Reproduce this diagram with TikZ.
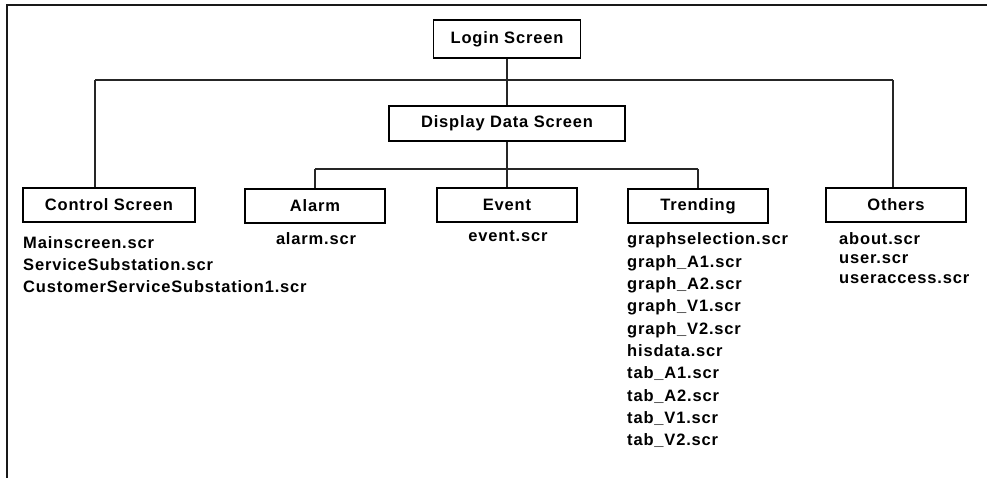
\documentclass[tikz,border=0pt]{standalone}
\usepackage{fontspec}
\setmainfont{Liberation Sans}[LetterSpace=5]
\begin{document}
\begin{tikzpicture}[x=1pt,y=-1pt,
  box/.style={draw=black,line width=1.3pt,inner sep=0pt,font=\fontsize{16.5}{19}\selectfont\bfseries},
  conn/.style={draw=black!85,line width=1.2pt},
  item/.style={inner sep=0pt,font=\fontsize{16.5}{19}\selectfont\bfseries,text=black}]
\useasboundingbox (0,0) rectangle (987,478);
% frame
\coordinate (fTL) at (6.5,5.5);
\coordinate (fTR) at (987,5.5);
\coordinate (fBL) at (6.5,478);
\draw[line width=2pt,black!90] (fBL) -- (fTL) -- (fTR);
% boxes
\node[box,minimum width=147pt,minimum height=38pt] (login) at (507,39) {Login Screen};
\node[box,minimum width=236pt,minimum height=35pt] (display) at (507,123.5) {Display Data Screen};
\node[box,minimum width=172pt,minimum height=34pt] (control) at (109,205) {Control Screen};
\node[box,minimum width=140pt,minimum height=34pt] (alarm) at (315,206) {Alarm};
\node[box,minimum width=140pt,minimum height=34pt] (event) at (507,205) {Event};
\node[box,minimum width=140pt,minimum height=34pt] (trending) at (698,206) {Trending};
\node[box,minimum width=140pt,minimum height=34pt] (others) at (896,205) {Others};
% buses
\coordinate (b1L) at (95,80);
\coordinate (b1R) at (893,80);
\coordinate (b2L) at (315,169);
\coordinate (b2R) at (698,169);
\draw[conn] (b1L) -- (b1R);
\draw[conn] (login.south) -- (display.north);
\draw[conn] (b1L) -- (b1L |- control.north);
\draw[conn] (b1R) -- (b1R |- others.north);
\draw[conn] (b2L) -- (b2R);
\draw[conn] (display.south) -- (event.north);
\draw[conn] (b2L) -- (alarm.north);
\draw[conn] (b2R) -- (trending.north);
% lists
\node[item,anchor=base west] (c1) at (23,248) {Mainscreen.scr};
\node[item,anchor=base west] (c2) at (23,270) {ServiceSubstation.scr};
\node[item,anchor=base west] (c3) at (23,292) {CustomerServiceSubstation1.scr};
\node[item,anchor=base] (a1) at (316,245) {alarm.scr};
\node[item,anchor=base] (e1) at (508,242) {event.scr};
\foreach \t [count=\i from 0] in {graphselection.scr,graph\_A1.scr,graph\_A2.scr,graph\_V1.scr,graph\_V2.scr,hisdata.scr,tab\_A1.scr,tab\_A2.scr,tab\_V1.scr,tab\_V2.scr}
  \node[item,anchor=base west] (t\i) at (627,245+22.3*\i) {\t};
\node[item,anchor=base west] (o1) at (839,244) {about.scr};
\node[item,anchor=base west] (o2) at (839,263.5) {user.scr};
\node[item,anchor=base west] (o3) at (839,283) {useraccess.scr};
\end{tikzpicture}
\end{document}
